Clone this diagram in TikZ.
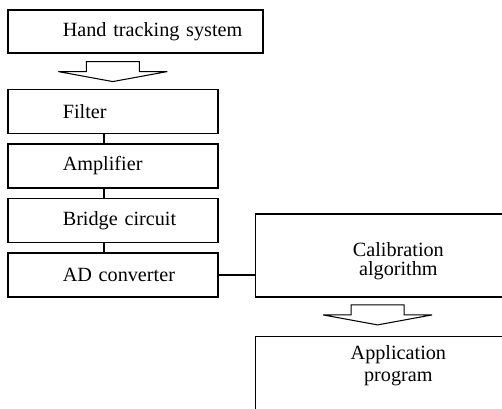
\documentclass[tikz,border=0pt]{standalone}
\usepackage{fontspec}
\setmainfont{Liberation Serif}
\usepackage{tikz}
\usetikzlibrary{positioning,calc}
\tikzset{
  stage/.style={rectangle, draw=black, line width=0.9pt, inner xsep=0pt,
                text width=4.2cm, minimum height=0.88cm, align=left,
                execute at begin node={\hspace*{1.1cm}},
                font=\fontsize{11.5}{11.5}\selectfont},
  unit/.style={rectangle, draw=black, line width=0.9pt, text width=5.72cm,
               inner xsep=0pt, minimum height=1.66cm, align=center,
               font=\fontsize{11.5}{11.3}\selectfont},
  link/.style={line width=0.9pt},
  fatarrow/.pic={
    \draw[line width=0.6pt, line join=miter]
      (-0.53,0.4) -- (0.53,0.4) -- (0.53,0.2) -- (1.09,0.2) -- (0,0)
      -- (-1.09,0.2) -- (-0.53,0.2) -- cycle;
  },
}

\begin{document}
\begin{tikzpicture}
  \useasboundingbox (0,0) rectangle (10.04,8.16);
  \clip (0,0) rectangle (10.04,8.16);

  % sensor chain on the left
  \node[stage, text width=5.1cm, minimum height=0.86cm, anchor=north west] (hand)
        at (0.14,7.98) {Hand tracking system};
  \node[stage, below=0.7cm of hand.south west, anchor=north west] (filter) {Filter};
  \node[stage, below=0.18cm of filter] (amp) {Amplifier};
  \node[stage, below=0.18cm of amp] (bridge) {Bridge circuit};
  \node[stage, below=0.18cm of bridge] (adc) {AD converter};

  % processing on the right
  \node[unit, text height=0.42cm, text depth=0.40cm,
        right=0.72cm of adc.south east, anchor=south west] (calib)
        {Calibration\\algorithm};
  \node[unit, font=\fontsize{11.5}{12.5}\selectfont, text height=0.10cm,
        text depth=0.86cm, below=0.76cm of calib] (app)
        {Application\\program};

  \pic at ([yshift=0.14cm]filter.north) {fatarrow};
  \pic at ([xshift=2.46cm, yshift=0.22cm]app.north west) {fatarrow};

  \draw[link] ([xshift=-0.18cm]filter.south) -- ([xshift=-0.18cm]amp.north);
  \draw[link] ([xshift=-0.18cm]amp.south) -- ([xshift=-0.18cm]bridge.north);
  \draw[link] ([xshift=-0.18cm]bridge.south) -- ([xshift=-0.18cm]adc.north);
  \draw[link] (adc.east) -- (adc.east -| calib.west);
\end{tikzpicture}
\end{document}
